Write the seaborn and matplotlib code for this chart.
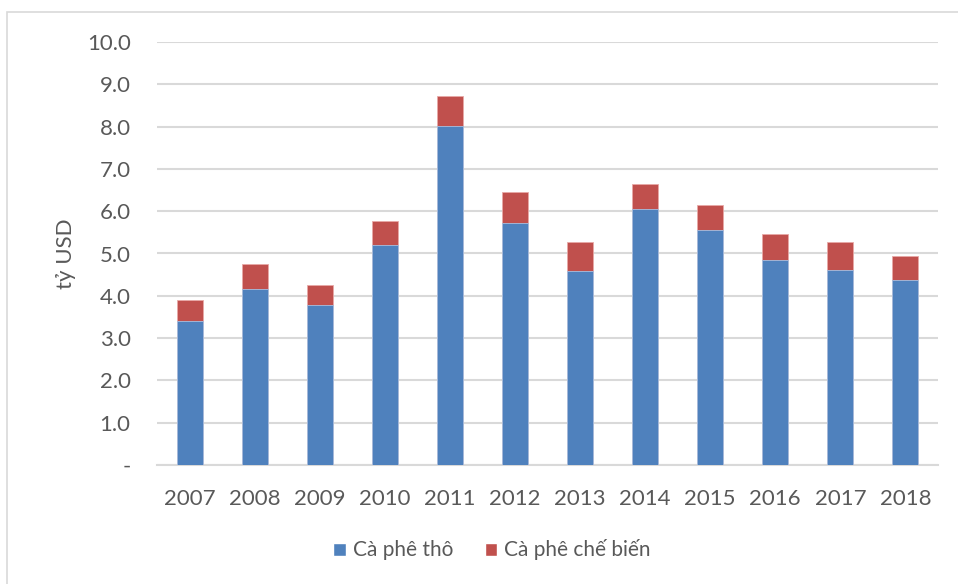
import matplotlib
matplotlib.use("Agg")
import matplotlib.pyplot as plt
import seaborn as sns
import pandas as pd
from matplotlib.patches import Patch, Rectangle

years = ["2007", "2008", "2009", "2010", "2011", "2012", "2013", "2014", "2015", "2016", "2017", "2018"]
raw = [3.40, 4.17, 3.79, 5.20, 8.01, 5.73, 4.59, 6.05, 5.55, 4.85, 4.61, 4.37]
processed = [0.49, 0.58, 0.47, 0.56, 0.72, 0.72, 0.68, 0.60, 0.60, 0.62, 0.66, 0.58]
series_names = ["Cà phê thô", "Cà phê chế biến"]
ytick_vals = [0, 1, 2, 3, 4, 5, 6, 7, 8, 9, 10]
ytick_labels = ["-", "1.0", "2.0", "3.0", "4.0", "5.0", "6.0", "7.0", "8.0", "9.0", "10.0"]

sns.set_theme(style="white")
plt.rcParams["font.family"] = ["Lato", "DejaVu Sans"]

blue = "#4F81BD"
red = "#C0504D"
txt = "#595959"

df = pd.DataFrame({"year": years, "raw": raw,
                   "total": [r + p for r, p in zip(raw, processed)]})

fig = plt.figure(figsize=(9.58, 5.84), dpi=100)
ax = fig.add_axes([157 / 958, 1 - 465 / 584, (938 - 157) / 958, (465 - 42) / 584])

# outer frame
fig.patches.append(Rectangle((7 / 958, -0.05), 1.0, 1 - 12 / 584 + 0.05,
                             transform=fig.transFigure, fill=False,
                             edgecolor="#d9d9d9", linewidth=1.2, zorder=0))

sns.barplot(data=df, x="year", y="total", color=red, width=0.4, saturation=1,
            edgecolor="#e8a9a7", linewidth=0.6, ax=ax, zorder=3)
sns.barplot(data=df, x="year", y="raw", color=blue, width=0.4, saturation=1,
            edgecolor="#a9c0e0", linewidth=0.6, ax=ax, zorder=4)

ax.set_ylim(0, 10)
ax.set_xlim(-0.5, 11.5)
ax.set_yticks(ytick_vals)
ax.set_yticklabels(ytick_labels)
ax.yaxis.grid(True, color="#d9d9d9", linewidth=1.5, zorder=0)
ax.set_axisbelow(True)
for s in ["top", "right", "left"]:
    ax.spines[s].set_visible(False)
ax.spines["bottom"].set_color("#d9d9d9")
ax.spines["bottom"].set_linewidth(1.5)
ax.tick_params(axis="both", length=0, labelsize=16, colors=txt)
ax.tick_params(axis="x", pad=17)
ax.tick_params(axis="y", pad=19)
ax.set_xlabel("")
ax.set_ylabel("tỷ USD", fontsize=16, color=txt, labelpad=8)

handles = [Patch(facecolor=blue, label=series_names[0]),
           Patch(facecolor=red, label=series_names[1])]
fig.legend(handles=handles, loc="center", bbox_to_anchor=(492 / 958, 1 - 550 / 584),
           ncol=2, frameon=False, fontsize=15, labelcolor=txt,
           handlelength=0.6, handleheight=0.6, handletextpad=0.35, columnspacing=1.5)

fig.savefig("out.png", dpi=100)
